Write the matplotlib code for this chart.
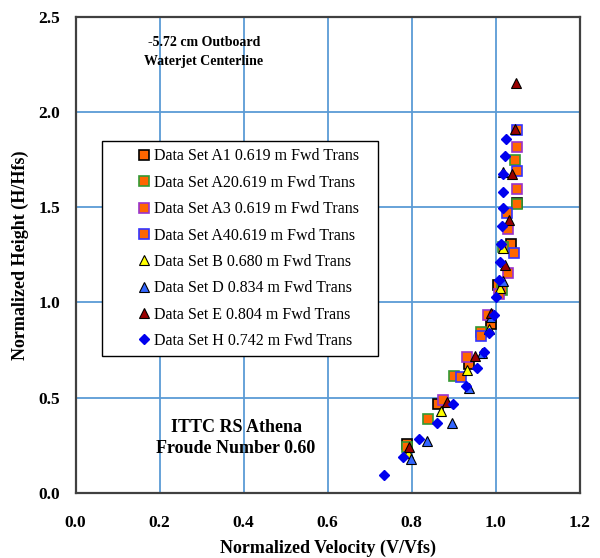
import matplotlib
matplotlib.use("Agg")
import matplotlib.pyplot as plt

plt.rcParams['font.family'] = ['Liberation Serif', 'DejaVu Serif']

# values (V/Vfs, H/Hfs)
a1_v = [0.790, 0.864, 0.936, 0.990, 1.006, 1.036, 1.050]
a1_h = [0.254, 0.464, 0.679, 0.886, 1.091, 1.306, 1.520]
a2_v = [0.788, 0.840, 0.901, 0.965, 1.015, 1.018, 1.050, 1.046]
a2_h = [0.240, 0.387, 0.613, 0.846, 1.065, 1.292, 1.515, 1.748]
a3_v = [0.875, 0.931, 0.982, 1.008, 1.030, 1.030, 1.050, 1.050]
a3_h = [0.488, 0.714, 0.933, 1.044, 1.153, 1.384, 1.594, 1.816]
a4_v = [0.918, 0.965, 1.043, 1.026, 1.050, 1.052]
a4_h = [0.609, 0.823, 1.258, 1.471, 1.692, 1.905]
b_v = [0.792, 0.870, 0.933, 0.984, 1.010, 1.018]
b_h = [0.210, 0.429, 0.644, 0.863, 1.077, 1.284]
d_v = [0.798, 0.837, 0.895, 0.936, 0.967, 0.988, 1.017, 1.017]
d_h = [0.177, 0.273, 0.364, 0.548, 0.732, 0.924, 1.114, 1.685]
e_v = [0.793, 0.885, 0.951, 0.990, 1.022, 1.033, 1.039, 1.045, 1.048]
e_h = [0.238, 0.476, 0.719, 0.942, 1.196, 1.432, 1.673, 1.914, 2.154]
h_v = [0.735, 0.779, 0.817, 0.860, 0.898, 0.929, 0.956, 0.972, 0.984, 0.997,
       1.002, 1.009, 1.010, 1.013, 1.016, 1.017, 1.018, 1.017, 1.022, 1.024]
h_h = [0.091, 0.187, 0.280, 0.369, 0.466, 0.562, 0.653, 0.740, 0.837, 0.933,
       1.026, 1.117, 1.213, 1.305, 1.403, 1.497, 1.581, 1.675, 1.769, 1.860]

labels = ["Data Set A1 0.619 m Fwd Trans", "Data Set A20.619 m Fwd Trans",
          "Data Set A3 0.619 m Fwd Trans", "Data Set A40.619 m Fwd Trans",
          "Data Set B 0.680 m Fwd Trans", "Data Set D 0.834 m Fwd Trans",
          "Data Set E 0.804 m Fwd Trans", "Data Set H 0.742 m Fwd Trans"]

fig = plt.figure(figsize=(6.0, 5.58), dpi=100)
ax = fig.add_axes([0.126, 0.117, 0.840, 0.8525])

sq = dict(marker='s', ms=6.8, mfc='#ff6600', mew=1.2, ls='none')
tri = dict(marker='^', ms=7.2, mec='black', mew=0.8, ls='none')
ax.plot(a1_v, a1_h, mec='black', label=labels[0], **sq)
ax.plot(a2_v, a2_h, mec='#339933', label=labels[1], **sq)
ax.plot(a3_v, a3_h, mec='#9933cc', label=labels[2], **sq)
ax.plot(a4_v, a4_h, mec='#3333ff', label=labels[3], **sq)
ax.plot(b_v, b_h, mfc='#ffff00', label=labels[4], **tri)
ax.plot(d_v, d_h, mfc='#3366ff', label=labels[5], **tri)
ax.plot(e_v, e_h, mfc='#990000', label=labels[6], **tri)
ax.plot(h_v, h_h, marker='D', ms=5.5, mfc='#0000ee', mec='#0000ee', ls='none',
        label=labels[7])

ax.set_xlim(0, 1.2)
ax.set_ylim(0, 2.5)
ax.set_xticks([0.0, 0.2, 0.4, 0.6, 0.8, 1.0, 1.2])
ax.set_yticks([0.0, 0.5, 1.0, 1.5, 2.0, 2.5])
ax.xaxis.set_major_formatter(matplotlib.ticker.FormatStrFormatter('%.1f'))
ax.yaxis.set_major_formatter(matplotlib.ticker.FormatStrFormatter('%.1f'))
ax.grid(True, color='#5b9bd5', lw=1.3)
ax.set_axisbelow(True)
ax.tick_params(length=0, labelsize=12.5)
ax.tick_params(axis='x', pad=16)
ax.tick_params(axis='y', pad=11)
for t in ax.get_xticklabels() + ax.get_yticklabels():
    t.set_fontweight('bold')
for s in ax.spines.values():
    s.set_color('#404040')
    s.set_linewidth(1.6)

ax.set_xlabel('Normalized Velocity (V/Vfs)', fontsize=13, fontweight='bold', labelpad=6)
ax.set_ylabel('Normalized Height (H/Hfs)', fontsize=13, fontweight='bold', labelpad=7)

ax.text(0.305, 2.315, '-5.72 cm Outboard\nWaterjet Centerline', ha='center', va='center',
        fontsize=10, fontweight='bold', linespacing=1.65)
ax.text(0.382, 0.287, 'ITTC RS Athena\nFroude Number 0.60', ha='center', va='center',
        fontsize=13, fontweight='bold', linespacing=1.3)

leg = ax.legend(loc='upper left', bbox_to_anchor=(0.0516, 0.2956, 0.5484, 0.4434),
                mode='expand', borderaxespad=0, fontsize=11.5, frameon=True,
                fancybox=False, edgecolor='black', framealpha=1, numpoints=1,
                handlelength=4.4, handletextpad=-1.55, labelspacing=0.65, borderpad=0.45)
leg.get_frame().set_linewidth(1.0)

fig.savefig('out.png', dpi=100)
